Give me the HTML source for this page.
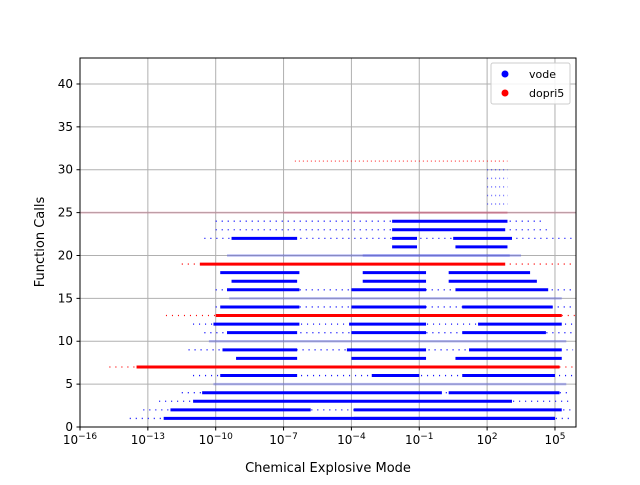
<!DOCTYPE html>
<html><head><meta charset="utf-8"><style>
body{margin:0;background:#fff;font-family:"Liberation Sans","DejaVu Sans",sans-serif}
svg text{font-family:"DejaVu Sans","Liberation Sans",sans-serif}
</style></head><body>
<svg id="chart" width="640" height="480" viewBox="0 0 640 480">
<rect width="640" height="480" fill="#fff"/>
<g id="grid"></g>
<g id="marks"></g>
<rect x="80" y="58" width="496" height="369" fill="none" stroke="#000" stroke-width="1"/>
<g id="axes"></g>
<text x="328" y="472" text-anchor="middle" font-size="13">Chemical Explosive Mode</text>
<text transform="translate(44,242) rotate(-90)" text-anchor="middle" font-size="13">Function Calls</text>
<g>
<rect x="491" y="63" width="79" height="41" rx="2" fill="#fff" fill-opacity="0.85" stroke="#ccc"/>
<circle cx="505" cy="74" r="3.5" fill="#0000ff"/>
<text x="529" y="78" font-size="11">vode</text>
<circle cx="505" cy="93" r="3.5" fill="#ff0000"/>
<text x="529" y="97" font-size="11">dopri5</text>
</g>
</svg>
<script>
const xTicks=[-16,-13,-10,-7,-4,-1,2,5];
const yTicks=[0,5,10,15,20,25,30,35,40];
// dense segments: level, log10 start, log10 end, series (v=vode, d=dopri5, f=faint mix, g=faint red mix)
const segLevel=[1,1,2,2,3,4,4,5,6,6,6,7,8,8,8,9,9,9,10,11,11,11,12,12,12,13,14,14,14,15,16,16,16,17,17,17,18,18,18,19,20,20,21,21,22,22,22,23,24,25,25,25,26,27,28,29,30,31];
const segStart=[-12.3,-3.9,-12.0,-3.9,-11.0,-10.6,0.3,-10.1,-9.8,-3.1,0.9,-13.5,-9.1,-4.0,0.6,-9.7,-4.2,1.2,-10.3,-9.5,-4.0,0.9,-10.1,-4.1,1.6,-10.0,-9.8,-4.0,0.9,-9.4,-9.5,-4.0,0.6,-9.3,-3.5,0.3,-9.8,-3.5,0.3,-10.7,-9.5,-3.5,-2.2,0.6,-9.3,-2.2,0.5,-2.2,-2.2,-7.0,-4.0,-16,2.0,2.0,2.0,2.0,2.0,-6.5];
const segEnd=[5.0,5.0,-5.8,5.3,3.1,0.0,5.2,5.5,-6.4,-1.0,5.0,5.2,-6.4,-0.7,5.3,-6.4,-0.7,5.3,5.5,-6.4,-0.7,4.6,-6.3,-0.7,5.3,5.3,-6.3,-0.7,4.9,5.3,-6.3,-0.7,4.7,-6.4,-0.7,4.2,-6.3,-0.7,3.9,2.8,3.5,3.0,-1.1,2.9,-6.4,-1.1,3.1,2.8,2.9,2.9,2.9,5.9,2.9,2.9,2.9,2.9,2.9,2.9];
const segSeries=['v','v','v','v','v','v','v','f','v','v','v','d','v','v','v','v','v','v','f','v','v','v','v','v','v','d','v','v','v','f','v','v','v','v','v','v','v','v','v','d','f','f','v','v','v','v','v','v','v','g','g','g','s','s','s','s','s','r'];
// sparse scatter extents: level, start, end, series
const spLevel=[1,2,3,4,6,7,9,11,12,13,13,14,16,19,19,22,23,24];
const spStart=[-13.8,-13.2,-12.5,-11.5,-11.0,-14.7,-11.2,-10.5,-11.0,-12.2,5.3,-10.0,-10.0,-11.5,3.0,-10.5,-10.0,-10.0];
const spEnd=[5.8,5.8,5.8,5.6,5.8,5.9,5.8,5.8,5.8,-10.0,5.9,5.8,5.8,-10.7,5.9,5.8,4.8,4.5];
const spSeries=['v','v','v','v','v','d','v','v','v','d','d','v','v','d','d','v','v','v'];
const X0=80,X1=576,Y0=427,Y1=58,LMIN=-16,LMAX=5.93,VMAX=43.03;
function xs(l){return X0+(l-LMIN)/(LMAX-LMIN)*(X1-X0);}
function ys(v){return Y0-v/VMAX*(Y0-Y1);}
const NS='http://www.w3.org/2000/svg';
const grid=document.getElementById('grid'),axes=document.getElementById('axes'),marks=document.getElementById('marks');
function mk(tag,attrs,parent){const e=document.createElementNS(NS,tag);for(const k in attrs)e.setAttribute(k,attrs[k]);parent.appendChild(e);return e;}
xTicks.forEach(t=>{
 const x=xs(t);
 const g=mk('line',{x1:x,x2:x,y1:Y1,y2:Y0,stroke:'#b0b0b0','stroke-width':1},grid);
 
 
 const tk=mk('line',{x1:x,x2:x,y1:Y0,y2:Y0+3.5,stroke:'#000'},axes);
 
 
 const tx=mk('text',{x:x,y:Y0+17,'text-anchor':'middle','font-size':12},axes);
 
 
 tx.textContent='10';
 const sp=mk('tspan',{dy:-5,'font-size':9},tx);sp.textContent=String(t).replace('-','\u2212');
});
yTicks.forEach(t=>{
 const y=ys(t);
 const g=mk('line',{x1:X0,x2:X1,y1:y,y2:y,stroke:'#b0b0b0','stroke-width':1},grid);
 
 
 const tk=mk('line',{x1:X0-3.5,x2:X0,y1:y,y2:y,stroke:'#000'},axes);
 
 
 const tx=mk('text',{x:X0-7,y:y+4,'text-anchor':'end','font-size':12},axes);
 
 
 tx.textContent=t;
});
const colors={v:'#0000ff',d:'#ff0000',f:'rgba(60,70,230,0.35)',g:'rgba(200,90,120,0.3)',s:'rgba(0,0,255,0.55)',r:'rgba(255,0,0,0.6)'};
const widths={v:3,d:3,f:2.5,g:2,s:1.5,r:1.5};
spLevel.forEach((lv,i)=>{
 const l=mk('line',{x1:xs(spStart[i]),x2:xs(spEnd[i]),y1:ys(lv),y2:ys(lv),stroke:colors[spSeries[i]],'stroke-width':1.3,'stroke-dasharray':'1 5'},marks);
 
 
});
segLevel.forEach((lv,i)=>{
 const s=segSeries[i];
 const attrs={x1:xs(segStart[i]),x2:xs(segEnd[i]),y1:ys(lv),y2:ys(lv),stroke:colors[s],'stroke-width':widths[s]};
 if(s==='s'||s==='r')attrs['stroke-dasharray']='1 3';
 const l=mk('line',attrs,marks);
 
 
});
</script>
</body></html>
